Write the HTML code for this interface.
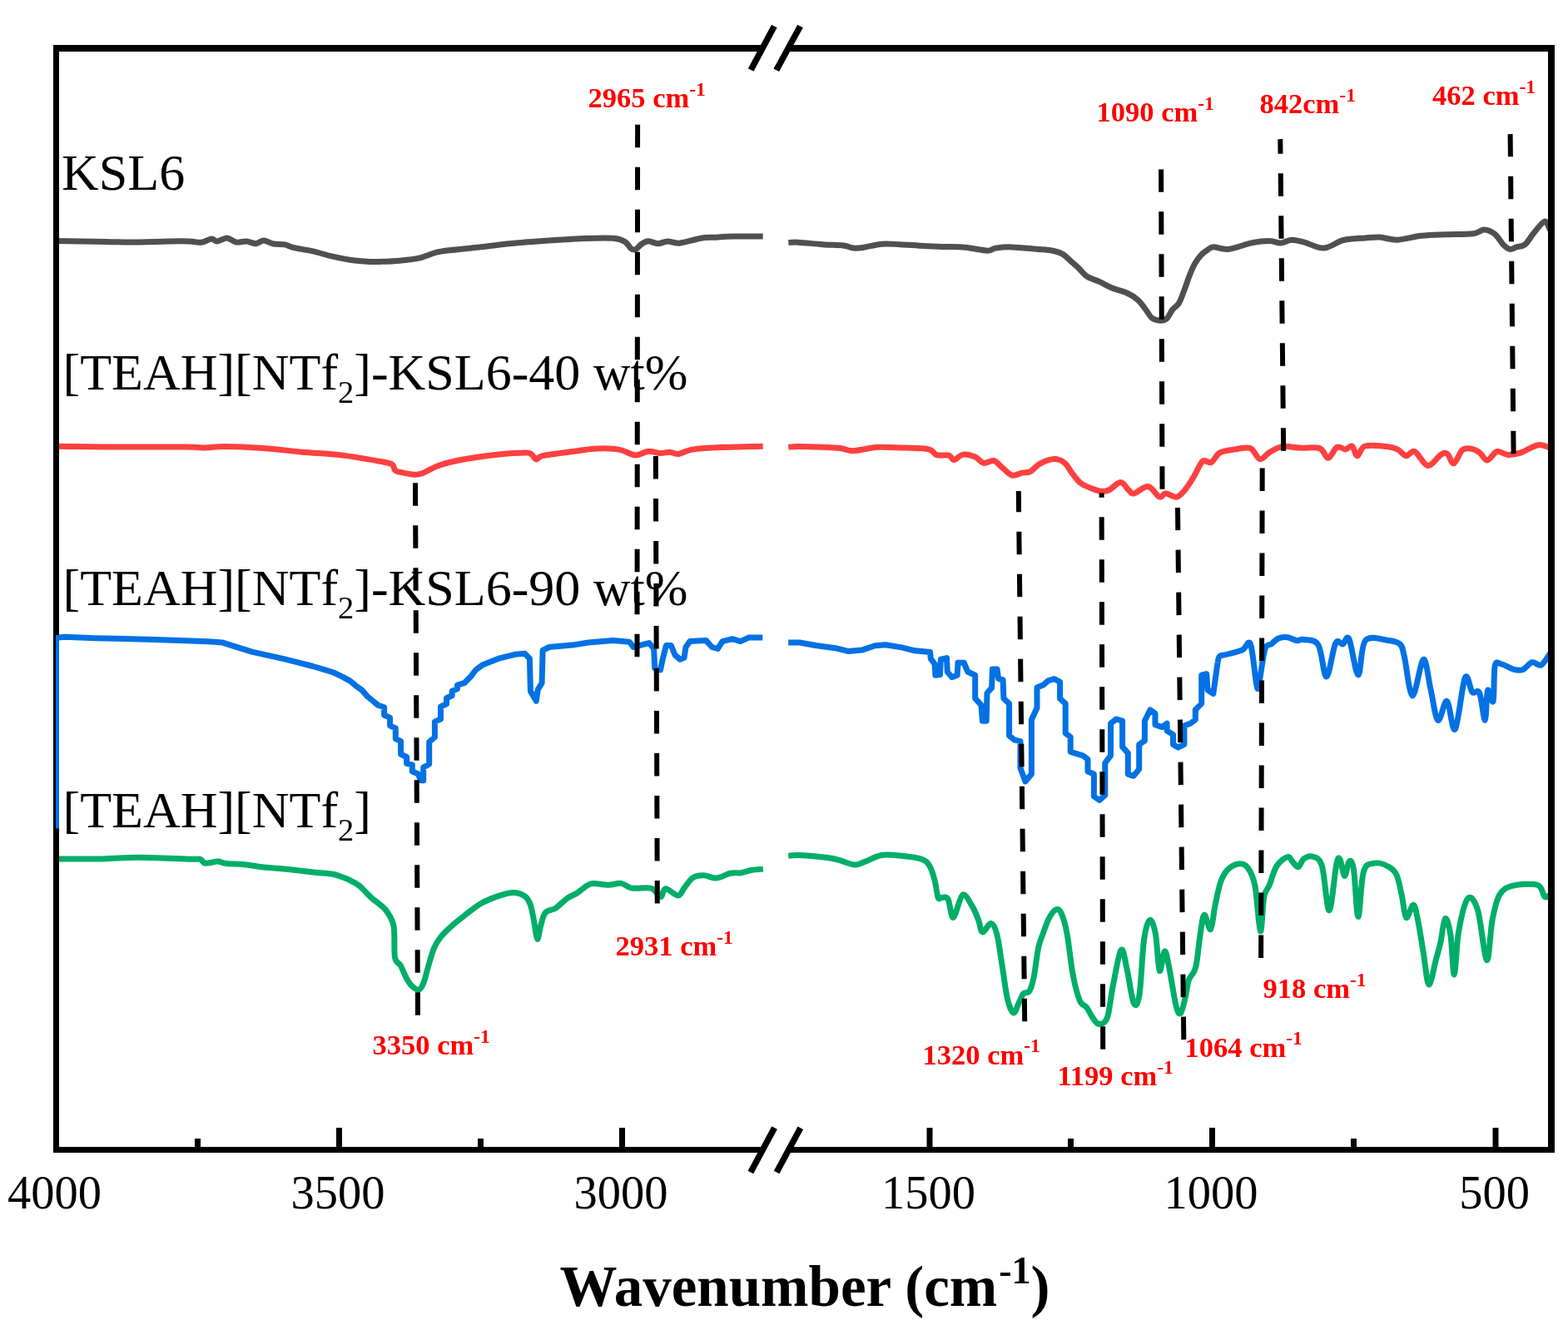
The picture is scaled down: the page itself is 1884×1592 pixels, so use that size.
<!DOCTYPE html>
<html><head><meta charset="utf-8"><title>FTIR</title>
<style>
html,body{margin:0;padding:0;background:#fff;}
body{width:1884px;height:1592px;overflow:hidden;}
svg{display:block;}
.lbl{font-family:"Liberation Serif",serif;}
</style></head><body>
<svg width="1884" height="1592" viewBox="0 0 1884 1592">
<rect x="0" y="0" width="1884" height="1592" fill="#fff"/>

<text class="lbl" x="74" y="228" font-size="62" fill="#000">KSL6</text>
<text class="lbl" x="75.5" y="468" font-size="62" fill="#000">[TEAH][NTf<tspan font-size="38.5" dy="16">2</tspan><tspan dy="-16">]-KSL6-40 wt%</tspan></text>
<text class="lbl" x="75.5" y="727" font-size="62" fill="#000">[TEAH][NTf<tspan font-size="38.5" dy="16">2</tspan><tspan dy="-16">]-KSL6-90 wt%</tspan></text>
<text class="lbl" x="75.5" y="994" font-size="62" fill="#000">[TEAH][NTf<tspan font-size="38.5" dy="16">2</tspan><tspan dy="-16">]</tspan></text>
<path d="M67.0,289.4 C77.1,289.6 112.5,290.1 127.7,290.4 C142.9,290.7 145.5,291.1 158.0,291.0 C170.5,290.9 190.8,290.2 202.5,290.0 C214.2,289.8 221.4,289.8 228.0,290.0 C234.6,290.2 237.7,291.8 242.0,291.3 C246.3,290.8 250.8,287.1 254.0,286.9 C257.2,286.7 257.9,290.1 261.0,290.0 C264.1,289.9 268.7,285.8 272.5,286.0 C276.3,286.2 280.1,290.3 284.0,291.0 C287.9,291.7 292.1,289.7 296.0,290.0 C299.9,290.3 304.0,292.9 307.5,292.7 C311.0,292.5 313.5,288.9 317.0,289.0 C320.5,289.1 324.3,292.2 328.6,293.0 C332.9,293.8 338.7,293.2 342.6,293.9 C346.5,294.6 346.6,296.1 352.0,297.4 C357.4,298.7 367.2,299.9 375.0,301.6 C382.8,303.4 390.8,306.1 398.6,307.9 C406.4,309.7 414.3,311.4 422.0,312.5 C429.7,313.6 439.2,314.1 445.0,314.4 C450.8,314.7 451.2,314.6 457.0,314.4 C462.8,314.2 472.3,313.9 480.0,313.2 C487.7,312.5 495.6,311.9 503.4,310.2 C511.2,308.4 518.9,304.4 526.7,302.7 C534.5,300.9 540.6,300.8 550.0,299.7 C559.4,298.6 571.1,297.5 582.8,296.2 C594.5,294.9 606.0,293.3 620.0,292.0 C634.0,290.7 653.1,289.4 666.8,288.5 C680.4,287.6 690.2,286.8 701.9,286.4 C713.6,286.0 728.7,285.5 736.9,286.2 C745.1,286.9 747.5,288.3 751.0,290.4 C754.5,292.4 755.9,296.9 758.0,298.5 C760.1,300.1 761.6,300.6 763.7,299.7 C765.8,298.8 768.2,294.9 770.8,293.2 C773.3,291.5 775.7,289.8 779.0,289.7 C782.3,289.6 786.7,292.7 790.6,292.7 C794.5,292.7 798.0,290.0 802.3,289.9 C806.6,289.8 809.7,292.8 816.3,292.2 C822.9,291.6 835.0,287.4 842.0,286.2 C849.0,285.0 851.7,285.6 858.3,285.2 C864.9,284.8 872.0,284.2 881.7,284.0 C891.4,283.8 910.9,284.0 916.7,284.0" fill="none" stroke="#505050" stroke-width="7" stroke-linejoin="round"/>
<path d="M947.3,291.5 C949.3,291.4 952.6,290.8 959.5,291.2 C966.4,291.6 979.8,293.1 988.8,293.7 C997.8,294.3 1007.1,294.2 1013.2,294.9 C1019.3,295.6 1021.3,297.7 1025.4,298.1 C1029.5,298.5 1032.0,298.1 1037.7,297.3 C1043.4,296.5 1052.3,293.8 1059.6,293.2 C1066.9,292.6 1073.0,293.3 1081.6,293.7 C1090.1,294.1 1102.0,295.2 1110.9,295.6 C1119.9,296.1 1127.2,296.1 1135.3,296.4 C1143.4,296.7 1151.2,296.5 1159.7,297.3 C1168.2,298.1 1180.5,301.1 1186.6,301.2 C1192.7,301.3 1191.4,298.8 1196.3,298.1 C1201.2,297.4 1207.8,296.7 1215.9,296.9 C1224.1,297.1 1237.1,298.6 1245.2,299.3 C1253.3,300.0 1259.4,300.2 1264.7,301.2 C1270.0,302.2 1273.2,303.3 1276.9,305.4 C1280.6,307.5 1283.5,311.0 1286.7,313.9 C1290.0,316.8 1293.2,319.4 1296.4,322.5 C1299.7,325.6 1302.1,329.7 1306.2,332.3 C1310.3,334.9 1316.0,336.2 1320.9,338.4 C1325.8,340.6 1329.8,343.3 1335.5,345.7 C1341.2,348.1 1349.7,350.1 1355.0,352.5 C1360.3,354.9 1363.5,357.0 1367.2,360.3 C1370.9,363.6 1374.2,368.8 1377.0,372.5 C1379.8,376.2 1381.5,380.2 1384.3,382.3 C1387.1,384.4 1391.1,385.1 1394.1,385.2 C1397.1,385.2 1399.7,384.8 1402.1,382.6 C1404.5,380.4 1406.2,375.2 1408.6,372.2 C1411.0,369.2 1414.0,368.3 1416.4,364.4 C1418.8,360.5 1420.7,354.4 1422.9,348.8 C1425.1,343.2 1427.2,336.0 1429.4,330.6 C1431.6,325.2 1433.5,320.4 1435.9,316.3 C1438.3,312.2 1441.3,308.5 1443.7,305.9 C1446.1,303.3 1447.8,302.2 1450.2,300.7 C1452.6,299.2 1453.7,297.0 1458.0,296.8 C1462.3,296.6 1468.4,300.3 1476.2,299.4 C1484.0,298.5 1496.6,293.2 1504.8,291.6 C1513.0,290.0 1520.0,289.4 1525.6,289.5 C1531.2,289.6 1534.2,292.3 1538.6,292.1 C1542.9,291.9 1546.9,288.4 1551.7,288.2 C1556.5,288.0 1560.8,289.5 1567.3,291.1 C1573.8,292.8 1582.9,298.5 1590.7,298.1 C1598.5,297.7 1605.9,290.5 1614.1,288.5 C1622.3,286.5 1632.7,286.5 1640.1,285.9 C1647.5,285.3 1651.8,284.7 1658.3,285.1 C1664.8,285.5 1670.9,288.5 1679.1,288.2 C1687.3,287.9 1698.2,284.4 1707.7,283.3 C1717.2,282.2 1725.9,282.1 1736.3,281.7 C1746.7,281.3 1762.3,281.6 1770.1,280.7 C1777.9,279.8 1778.8,275.9 1783.1,276.0 C1787.4,276.1 1792.2,278.2 1796.1,281.2 C1800.0,284.2 1803.5,291.2 1806.5,294.2 C1809.5,297.2 1811.7,299.0 1814.3,299.4 C1816.9,299.8 1819.1,297.8 1822.1,296.8 C1825.1,295.9 1829.0,296.5 1832.5,293.7 C1836.0,290.9 1839.0,284.5 1842.9,279.9 C1846.8,275.3 1852.7,266.8 1855.9,266.1 C1859.2,265.5 1861.3,274.4 1862.4,276.0" fill="none" stroke="#505050" stroke-width="7" stroke-linejoin="round"/>
<path d="M67.0,536.2 C77.5,536.3 103.9,536.8 130.0,536.9 C156.1,537.0 204.0,536.7 223.5,536.9 C243.0,537.1 239.0,538.1 246.8,538.0 C254.6,537.9 258.5,536.3 270.2,536.4 C281.9,536.5 301.3,537.4 316.9,538.5 C332.5,539.6 348.0,541.8 363.6,543.2 C379.2,544.6 394.7,545.0 410.3,546.9 C425.9,548.8 446.9,552.6 457.0,554.4 C467.1,556.2 468.1,556.1 471.0,557.9 C473.9,559.6 473.0,563.3 474.5,564.9 C476.0,566.5 476.0,566.3 480.0,567.2 C484.0,568.1 494.0,570.1 498.7,570.3 C503.4,570.5 503.3,570.2 508.0,568.4 C512.7,566.6 519.7,562.0 526.7,559.5 C533.7,557.0 538.3,555.4 550.0,553.2 C561.7,551.0 583.2,547.8 596.8,546.2 C610.4,544.7 624.8,543.9 631.8,543.9 C638.8,543.9 636.7,544.9 638.8,546.2 C640.9,547.6 642.3,551.8 644.6,552.0 C646.9,552.2 645.2,549.0 652.8,547.4 C660.4,545.8 680.1,543.6 690.2,542.2 C700.3,540.8 705.7,539.7 713.5,539.2 C721.3,538.7 731.0,538.8 736.9,539.2 C742.8,539.6 744.1,540.2 748.6,541.5 C753.1,542.8 758.6,546.8 763.7,546.9 C768.8,547.0 774.1,542.6 779.0,542.2 C783.9,541.8 788.7,544.4 793.0,544.6 C797.3,544.8 800.9,543.1 804.6,543.2 C808.3,543.4 810.8,546.0 815.1,545.5 C819.4,545.0 823.9,541.6 830.3,540.4 C836.7,539.1 839.3,538.7 853.7,538.0 C868.1,537.3 906.2,536.5 916.7,536.2" fill="none" stroke="#ff4040" stroke-width="7" stroke-linejoin="round"/>
<path d="M947.3,537.3 C949.3,537.1 952.6,536.4 959.5,536.4 C966.4,536.4 980.2,536.9 988.8,537.3 C997.3,537.7 1004.7,538.1 1010.8,538.8 C1016.9,539.5 1018.1,542.0 1025.4,541.7 C1032.7,541.5 1044.5,537.9 1054.7,537.3 C1064.9,536.7 1076.3,537.7 1086.5,538.1 C1096.7,538.5 1109.3,538.4 1115.8,539.8 C1122.3,541.2 1121.4,545.4 1125.5,546.6 C1129.6,547.8 1136.7,546.1 1140.2,547.1 C1143.7,548.1 1143.5,552.9 1146.3,552.7 C1149.1,552.5 1153.0,546.7 1157.3,546.1 C1161.6,545.5 1167.8,547.4 1171.9,549.1 C1176.0,550.8 1178.0,555.7 1181.7,556.4 C1185.4,557.1 1190.2,552.7 1193.9,553.5 C1197.6,554.3 1200.0,558.4 1203.7,561.3 C1207.4,564.2 1211.8,569.9 1215.9,571.0 C1220.0,572.1 1224.4,568.8 1228.1,568.1 C1231.8,567.4 1234.2,568.5 1237.9,566.6 C1241.6,564.7 1245.1,559.4 1250.0,556.9 C1254.9,554.4 1262.2,551.6 1267.1,551.5 C1272.0,551.4 1275.7,553.4 1279.4,556.4 C1283.1,559.4 1285.8,565.7 1289.1,569.8 C1292.3,573.9 1294.8,577.8 1298.9,580.8 C1303.0,583.8 1309.5,586.0 1313.5,587.6 C1317.5,589.2 1319.8,590.1 1323.0,590.3 C1326.2,590.5 1328.5,590.6 1332.4,588.8 C1336.3,587.0 1342.6,579.6 1346.5,579.6 C1350.4,579.6 1353.3,586.6 1356.0,588.8 C1358.7,591.0 1358.5,593.7 1362.4,593.0 C1366.3,592.3 1374.4,583.8 1379.5,584.5 C1384.6,585.2 1389.5,595.7 1393.0,597.1 C1396.5,598.5 1397.3,592.7 1400.8,592.7 C1404.3,592.7 1409.9,597.9 1413.8,597.1 C1417.7,596.3 1420.7,592.1 1424.2,588.0 C1427.7,583.9 1431.1,578.0 1434.6,572.4 C1438.1,566.8 1441.5,557.0 1445.0,554.2 C1448.5,551.4 1451.9,557.2 1455.4,555.5 C1458.9,553.8 1461.0,546.4 1465.8,543.8 C1470.6,541.2 1477.9,540.8 1484.0,539.9 C1490.1,539.0 1497.2,536.6 1502.2,538.6 C1507.2,540.6 1510.0,550.8 1513.9,551.6 C1517.8,552.4 1521.0,545.8 1525.6,543.3 C1530.1,540.8 1535.1,537.4 1541.2,536.5 C1547.3,535.6 1554.6,537.8 1562.0,538.1 C1569.4,538.5 1579.8,536.6 1585.5,538.6 C1591.2,540.6 1592.4,550.5 1595.9,550.3 C1599.4,550.1 1602.8,539.0 1606.3,537.3 C1609.8,535.6 1613.7,540.1 1616.7,539.9 C1619.7,539.7 1622.1,534.7 1624.5,536.0 C1626.9,537.3 1628.4,547.7 1631.0,547.7 C1633.6,547.7 1634.2,537.9 1640.1,536.0 C1645.9,534.1 1659.6,535.9 1666.1,536.5 C1672.6,537.1 1675.2,538.0 1679.1,539.9 C1683.0,541.8 1686.0,547.3 1689.5,547.7 C1693.0,548.1 1695.6,540.5 1699.9,542.5 C1704.2,544.5 1710.3,558.8 1715.5,559.4 C1720.7,560.0 1727.2,548.8 1731.1,546.4 C1735.0,544.0 1736.3,543.4 1738.9,545.1 C1741.5,546.8 1743.7,557.5 1746.7,556.8 C1749.7,556.1 1753.6,543.7 1757.1,540.7 C1760.6,537.8 1764.0,538.6 1767.5,539.1 C1771.0,539.6 1774.7,541.5 1777.9,543.8 C1781.2,546.1 1783.5,553.1 1787.0,552.9 C1790.5,552.7 1794.6,543.6 1798.7,542.5 C1802.8,541.4 1806.9,546.2 1811.7,546.4 C1816.5,546.6 1821.2,545.8 1827.3,543.8 C1833.4,541.8 1842.0,535.6 1848.1,534.7 C1854.2,533.8 1861.1,538.0 1863.7,538.6" fill="none" stroke="#ff4040" stroke-width="7" stroke-linejoin="round"/>
<polyline points="67.2,766.2 78.0,765.3 114.1,766.7 150.2,767.4 186.3,768.5 222.4,769.8 249.5,770.7 267.5,772.1 285.6,777.9 303.6,783.3 321.7,787.3 339.7,791.4 357.8,795.9 375.8,800.5 393.9,805.9 400.7,808.0 411.4,813.1 421.0,818.4 427.4,823.8 434.8,829.1 441.3,836.6 447.7,841.9 454.1,847.3 461.6,849.8 461.6,859.2 468.6,862.4 468.6,871.8 475.3,875.0 475.3,887.5 481.6,890.6 481.6,906.3 488.6,909.5 488.6,917.3 495.3,918.9 495.3,926.8 502.4,930.0 505.5,937.7 508.7,937.7 508.7,922.0 515.7,918.1 515.7,891.4 522.4,885.9 522.4,867.1 529.5,864.0 529.5,849.0 536.5,845.9 536.5,838.8 543.2,835.7 543.2,830.2 549.5,827.8 549.5,823.1 557.9,820.7 565.7,812.8 571.6,805.0 579.5,799.1 599.1,791.2 618.7,786.3 630.5,785.3 636.4,791.2 637.4,830.5 644.3,842.3 646.2,828.6 651.1,820.7 652.1,781.4 660.0,777.5 687.5,775.1 707.1,772.0 736.6,769.6 756.2,771.2 761.1,777.5 770.0,775.1 779.8,772.6 785.7,779.5 786.7,803.0 793.5,805.0 795.5,795.2 800.4,775.5 806.3,775.5 811.2,787.3 817.1,792.2 822.0,790.3 824.0,777.5 828.9,770.6 848.5,769.6 855.4,777.5 862.3,779.5 868.1,770.6 880.0,767.7 889.7,770.6 899.6,766.1 916.3,766.1" fill="none" stroke="#0271e4" stroke-width="7" stroke-linejoin="round" stroke-linecap="butt"/>
<polyline points="947.2,772.0 960.7,772.0 979.8,775.5 1003.7,778.7 1019.6,782.6 1035.5,781.1 1051.5,775.8 1064.2,774.7 1083.3,777.9 1099.2,781.8 1117.5,783.4 1118.3,791.4 1123.1,797.8 1123.9,811.3 1129.5,810.5 1130.3,792.2 1137.5,790.6 1138.3,807.3 1143.8,813.7 1150.2,811.3 1151.0,796.2 1158.2,796.2 1162.9,807.3 1171.7,811.3 1171.7,839.2 1178.9,847.1 1180.4,866.2 1185.2,866.2 1186.0,832.8 1191.6,826.4 1192.4,804.1 1198.0,804.1 1199.6,815.3 1205.1,816.9 1205.9,839.2 1212.6,845.4 1212.6,884.0 1219.3,889.2 1226.0,890.7 1226.0,922.7 1232.0,939.0 1239.4,930.1 1239.4,864.7 1246.0,850.6 1246.0,826.1 1253.5,823.1 1259.4,817.9 1266.9,815.7 1273.6,819.4 1273.6,839.4 1280.2,845.4 1280.2,881.0 1286.2,885.5 1286.2,903.3 1301.0,907.8 1307.0,912.3 1307.0,927.1 1314.4,930.1 1314.4,956.8 1321.1,961.3 1327.8,955.4 1327.8,916.7 1334.5,907.8 1334.5,869.2 1341.2,864.0 1348.6,866.2 1348.6,897.4 1355.3,904.8 1355.3,930.1 1362.0,932.3 1368.7,924.1 1368.7,894.4 1375.4,890.0 1375.4,866.2 1382.0,852.8 1388.0,857.3 1388.0,870.7 1396.2,873.6 1402.1,869.2 1402.1,878.1 1409.5,882.5 1409.5,894.4 1415.5,898.1 1422.9,894.4 1422.9,872.1 1430.3,869.2 1436.3,864.7 1436.3,852.8 1443.7,845.4 1443.7,811.2 1449.7,809.7 1451.0,829.0 1457.8,833.5 1463.0,796.3" fill="none" stroke="#0271e4" stroke-width="7" stroke-linejoin="round" stroke-linecap="butt"/>
<path d="M1463.0,796.3 C1463.4,795.0 1463.7,790.1 1465.4,788.5 C1467.1,786.9 1468.6,787.8 1473.1,786.5 C1477.6,785.2 1487.7,783.1 1492.6,781.0 C1497.5,778.9 1499.7,767.3 1502.5,774.0 C1505.3,780.7 1507.8,812.8 1509.5,821.0 C1511.2,829.2 1510.8,829.8 1512.5,823.0 C1514.2,816.2 1517.3,788.7 1519.8,780.5 C1522.3,772.3 1524.8,776.1 1527.5,773.9 C1530.2,771.6 1533.0,768.4 1536.2,767.0 C1539.5,765.6 1543.4,765.3 1547.0,765.7 C1550.6,766.1 1554.6,769.1 1557.9,769.6 C1561.2,770.1 1562.2,767.6 1566.6,768.5 C1570.9,769.4 1579.5,767.6 1584.0,775.0 C1588.5,782.4 1590.3,813.5 1593.8,813.1 C1597.2,812.8 1601.4,779.4 1604.7,772.9 C1608.0,766.4 1610.7,774.8 1613.4,773.9 C1616.1,773.0 1617.9,761.6 1621.0,767.8 C1624.1,774.0 1628.6,810.6 1631.9,810.9 C1635.2,811.2 1634.8,776.5 1640.6,769.6 C1646.4,762.7 1659.8,768.5 1666.7,769.2 C1673.6,769.9 1678.5,770.6 1682.0,773.9 C1685.5,777.2 1684.9,778.9 1687.4,789.2 C1689.9,799.6 1693.4,835.5 1697.2,836.0 C1701.0,836.5 1706.7,793.7 1710.3,792.4 C1713.9,791.1 1716.1,816.1 1719.0,828.3 C1721.9,840.4 1724.4,862.9 1727.7,865.3 C1731.0,867.7 1735.1,840.7 1738.6,842.5 C1742.0,844.3 1744.8,880.9 1748.4,876.2 C1752.0,871.5 1756.9,821.6 1760.3,814.2 C1763.7,806.8 1766.1,828.5 1769.0,831.6 C1771.9,834.7 1775.2,827.1 1777.7,832.7 C1780.2,838.3 1782.7,865.8 1784.3,865.3 C1785.9,864.8 1785.9,833.2 1787.5,829.4 C1789.1,825.6 1792.6,847.4 1794.1,842.5 C1795.5,837.6 1794.6,807.5 1796.2,800.1 C1797.8,792.7 1800.1,797.2 1803.9,797.9 C1807.7,798.6 1814.8,803.3 1819.1,804.4 C1823.4,805.5 1826.4,805.8 1830.0,804.4 C1833.6,803.0 1837.3,796.6 1840.9,795.7 C1844.5,794.8 1848.1,800.8 1851.7,799.0 C1855.3,797.2 1860.8,787.2 1862.6,784.8" fill="none" stroke="#0271e4" stroke-width="7" stroke-linejoin="round"/>
<path d="M68.5,1031.9 C77.7,1031.9 107.4,1032.2 123.7,1031.9 C140.0,1031.6 148.5,1030.1 166.2,1030.2 C183.9,1030.3 217.5,1032.0 229.9,1032.3 C242.3,1032.6 237.7,1031.5 240.5,1032.3 C243.3,1033.1 243.3,1036.7 246.8,1037.2 C250.3,1037.7 257.4,1035.0 261.7,1035.1 C265.9,1035.2 267.0,1037.0 272.3,1037.6 C277.6,1038.2 286.4,1038.0 293.5,1038.7 C300.6,1039.4 307.7,1041.0 314.8,1041.8 C321.9,1042.6 328.9,1042.8 336.0,1043.5 C343.1,1044.2 350.1,1044.9 357.2,1045.7 C364.3,1046.5 371.4,1047.4 378.5,1048.2 C385.6,1049.0 394.4,1049.4 399.7,1050.3 C405.0,1051.2 406.8,1052.2 410.3,1053.5 C413.8,1054.8 417.3,1056.0 420.9,1057.8 C424.4,1059.6 428.4,1061.7 431.6,1064.1 C434.8,1066.5 437.4,1069.9 440.0,1072.4 C442.6,1074.9 444.1,1076.9 446.9,1079.3 C449.7,1081.7 453.6,1084.2 456.6,1086.9 C459.6,1089.6 462.1,1090.8 464.8,1095.2 C467.6,1099.6 471.5,1103.9 473.1,1113.1 C474.7,1122.3 473.1,1142.6 474.5,1150.4 C475.9,1158.2 479.1,1156.0 481.4,1160.1 C483.7,1164.2 486.0,1171.1 488.3,1175.2 C490.6,1179.3 492.7,1182.6 495.2,1184.9 C497.7,1187.2 501.2,1189.7 503.5,1189.0 C505.8,1188.3 507.2,1185.4 509.0,1180.8 C510.8,1176.2 512.4,1168.3 514.5,1161.4 C516.6,1154.5 518.9,1145.4 521.4,1139.4 C523.9,1133.4 526.0,1130.2 529.7,1125.6 C533.4,1121.0 538.9,1115.9 543.5,1111.8 C548.1,1107.7 551.5,1105.1 557.3,1100.7 C563.0,1096.3 571.1,1089.5 578.0,1085.5 C584.9,1081.5 592.3,1078.8 598.7,1076.6 C605.1,1074.4 611.3,1072.4 616.6,1072.4 C621.9,1072.4 627.0,1074.2 630.4,1076.6 C633.8,1079.0 635.4,1082.0 637.3,1086.9 C639.1,1091.8 640.1,1099.3 641.5,1106.2 C642.9,1113.1 644.2,1127.4 645.6,1128.3 C647.0,1129.2 648.2,1117.1 649.8,1111.8 C651.4,1106.5 652.3,1100.0 655.3,1096.6 C658.3,1093.1 663.3,1094.0 667.7,1091.1 C672.1,1088.2 677.3,1082.2 681.5,1079.3 C685.7,1076.4 688.7,1076.0 692.7,1073.5 C696.7,1071.0 702.1,1066.0 705.5,1064.0 C708.9,1062.0 708.9,1061.5 713.1,1061.4 C717.4,1061.3 725.5,1063.3 731.0,1063.3 C736.5,1063.3 741.5,1060.8 746.2,1061.4 C750.9,1062.0 753.0,1066.1 759.0,1067.1 C765.0,1068.0 776.8,1066.0 781.9,1067.1 C787.0,1068.2 787.5,1071.8 789.6,1073.5 C791.7,1075.2 792.9,1078.2 794.6,1077.3 C796.3,1076.3 796.3,1068.0 799.7,1067.8 C803.1,1067.6 811.2,1076.4 815.0,1076.1 C818.8,1075.8 819.7,1069.5 822.7,1065.9 C825.7,1062.3 829.1,1056.8 832.9,1054.4 C836.7,1052.1 840.9,1051.7 845.6,1051.8 C850.3,1051.9 855.6,1055.4 860.9,1055.0 C866.2,1054.6 872.6,1050.3 877.5,1049.3 C882.4,1048.2 886.0,1049.3 890.2,1048.7 C894.4,1048.1 898.5,1046.2 902.9,1045.5 C907.3,1044.8 914.6,1044.4 916.9,1044.2" fill="none" stroke="#00ae68" stroke-width="7" stroke-linejoin="round"/>
<path d="M947.2,1028.3 C949.5,1028.2 951.8,1027.0 960.7,1027.5 C969.6,1028.0 989.6,1029.6 1000.5,1031.5 C1011.4,1033.4 1019.6,1038.3 1026.0,1039.0 C1032.4,1039.7 1033.1,1037.4 1038.7,1035.5 C1044.3,1033.6 1052.0,1028.7 1059.4,1027.5 C1066.8,1026.3 1075.3,1027.5 1083.3,1028.3 C1091.3,1029.1 1101.6,1030.3 1107.2,1032.3 C1112.8,1034.3 1114.2,1036.0 1116.8,1040.3 C1119.4,1044.5 1121.4,1051.4 1123.1,1057.8 C1124.8,1064.2 1125.8,1075.0 1127.1,1078.5 C1128.4,1082.0 1129.1,1078.2 1131.1,1078.5 C1133.1,1078.8 1136.6,1076.1 1139.0,1080.1 C1141.4,1084.1 1142.5,1103.2 1145.4,1102.4 C1148.3,1101.6 1152.9,1077.7 1156.6,1075.3 C1160.3,1072.9 1164.5,1083.0 1167.7,1088.0 C1170.9,1093.0 1173.6,1100.2 1175.7,1105.5 C1177.8,1110.8 1177.9,1119.2 1180.4,1119.9 C1182.9,1120.6 1187.9,1109.0 1190.8,1109.5 C1193.7,1110.0 1195.8,1114.5 1198.0,1123.1 C1200.2,1131.7 1202.2,1148.3 1204.3,1161.3 C1206.4,1174.3 1208.4,1191.8 1210.7,1201.1 C1213.0,1210.4 1215.7,1216.4 1217.9,1217.0 C1220.1,1217.6 1222.1,1208.8 1224.1,1204.9 C1226.1,1201.1 1227.6,1196.2 1229.7,1193.9 C1231.8,1191.6 1234.5,1194.3 1236.6,1191.1 C1238.7,1187.9 1240.3,1183.2 1242.1,1174.5 C1243.9,1165.8 1245.8,1147.4 1247.6,1138.7 C1249.4,1130.0 1251.0,1127.8 1253.1,1122.1 C1255.2,1116.3 1257.5,1109.0 1260.0,1104.2 C1262.5,1099.4 1265.8,1094.2 1268.3,1093.1 C1270.8,1091.9 1272.9,1092.5 1275.2,1097.3 C1277.5,1102.1 1279.8,1109.9 1282.1,1122.1 C1284.4,1134.3 1286.5,1157.1 1289.0,1170.4 C1291.5,1183.7 1294.5,1195.4 1297.3,1202.1 C1300.1,1208.8 1302.8,1206.7 1305.6,1210.4 C1308.3,1214.1 1311.3,1220.9 1313.8,1224.2 C1316.3,1227.5 1317.9,1230.6 1320.7,1230.4 C1323.5,1230.2 1327.6,1230.5 1330.4,1222.8 C1333.2,1215.1 1334.5,1197.8 1337.3,1184.2 C1340.1,1170.6 1344.2,1144.9 1347.0,1141.4 C1349.8,1138.0 1351.4,1152.9 1353.9,1163.5 C1356.4,1174.1 1359.6,1199.6 1362.1,1204.9 C1364.6,1210.2 1366.9,1207.9 1369.0,1195.2 C1371.1,1182.5 1372.5,1144.0 1374.6,1129.0 C1376.7,1114.0 1379.2,1106.7 1381.5,1105.5 C1383.8,1104.3 1386.5,1112.0 1388.4,1122.1 C1390.4,1132.2 1391.4,1162.8 1393.2,1166.3 C1395.0,1169.8 1397.5,1143.3 1399.4,1142.8 C1401.4,1142.3 1402.6,1152.5 1404.9,1163.5 C1407.2,1174.5 1410.9,1200.0 1413.2,1209.0 C1415.5,1218.0 1416.9,1219.1 1418.7,1217.3 C1420.5,1215.5 1422.7,1204.7 1424.3,1198.0 C1425.9,1191.3 1426.3,1183.3 1428.4,1177.3 C1430.5,1171.3 1434.4,1171.3 1436.7,1162.1 C1439.0,1152.9 1440.5,1132.6 1442.2,1122.1 C1443.9,1111.6 1444.9,1100.2 1447.0,1099.3 C1449.1,1098.4 1452.4,1118.5 1454.6,1116.6 C1456.8,1114.6 1458.1,1097.0 1460.1,1087.6 C1462.1,1078.2 1464.0,1067.2 1466.5,1060.1 C1469.0,1053.0 1471.6,1048.5 1475.2,1044.8 C1478.8,1041.1 1484.3,1038.3 1488.3,1037.9 C1492.3,1037.5 1495.9,1038.2 1499.2,1042.6 C1502.5,1047.0 1505.4,1051.7 1507.9,1064.4 C1510.4,1077.1 1512.6,1116.6 1514.4,1118.8 C1516.2,1121.0 1517.0,1086.8 1518.8,1077.5 C1520.6,1068.2 1522.8,1069.5 1525.3,1063.3 C1527.8,1057.1 1530.4,1046.1 1534.0,1040.5 C1537.6,1034.9 1543.7,1030.3 1547.0,1029.6 C1550.3,1028.9 1551.4,1034.1 1553.6,1036.1 C1555.8,1038.1 1557.9,1042.3 1560.1,1041.6 C1562.3,1040.9 1563.7,1033.9 1566.6,1031.8 C1569.5,1029.7 1573.9,1027.8 1577.5,1029.2 C1581.1,1030.7 1585.1,1029.7 1588.4,1040.5 C1591.7,1051.3 1594.2,1094.2 1597.1,1093.8 C1600.0,1093.4 1603.6,1048.4 1605.8,1038.3 C1608.0,1028.2 1608.6,1030.6 1610.2,1032.9 C1611.8,1035.2 1613.8,1052.1 1615.6,1052.4 C1617.4,1052.8 1619.2,1036.3 1621.0,1035.0 C1622.8,1033.7 1624.7,1033.7 1626.5,1044.8 C1628.3,1055.9 1629.9,1101.0 1631.9,1101.4 C1633.9,1101.8 1635.2,1057.7 1638.5,1047.0 C1641.8,1036.3 1646.8,1038.3 1651.5,1037.2 C1656.2,1036.1 1662.4,1038.3 1666.7,1040.5 C1671.0,1042.7 1674.7,1044.5 1677.6,1050.3 C1680.5,1056.1 1682.2,1066.6 1684.2,1075.3 C1686.2,1084.0 1687.2,1100.5 1689.6,1102.5 C1691.9,1104.5 1695.9,1086.8 1698.3,1087.3 C1700.7,1087.8 1701.7,1096.2 1703.7,1105.8 C1705.7,1115.4 1708.1,1132.0 1710.3,1144.9 C1712.5,1157.8 1714.3,1181.7 1716.8,1183.0 C1719.3,1184.3 1723.2,1161.0 1725.5,1152.5 C1727.8,1144.0 1729.1,1140.1 1730.9,1131.9 C1732.7,1123.8 1734.4,1105.0 1736.4,1103.6 C1738.4,1102.1 1741.1,1112.0 1742.9,1123.2 C1744.7,1134.4 1745.7,1171.7 1747.3,1171.0 C1748.9,1170.3 1750.0,1134.0 1752.7,1118.8 C1755.4,1103.6 1759.8,1083.8 1763.6,1079.6 C1767.4,1075.4 1771.8,1081.5 1775.6,1093.8 C1779.4,1106.1 1783.5,1151.6 1786.4,1153.6 C1789.3,1155.6 1790.5,1118.8 1793.0,1105.8 C1795.5,1092.8 1797.7,1082.2 1801.7,1075.3 C1805.7,1068.4 1809.3,1066.4 1816.9,1064.4 C1824.5,1062.4 1840.9,1061.1 1847.4,1063.3 C1853.9,1065.5 1853.4,1075.7 1856.1,1077.5 C1858.8,1079.3 1862.4,1074.8 1863.7,1074.2" fill="none" stroke="#00ae68" stroke-width="7" stroke-linejoin="round"/>
<line x1="765.5" y1="789.3" x2="766.1" y2="149.8" stroke="#000" stroke-width="6" stroke-dasharray="27.5 23.5"/>
<line x1="1396.5" y1="587.8" x2="1395.1" y2="203.5" stroke="#000" stroke-width="6" stroke-dasharray="27.5 23.5"/>
<line x1="1542.2" y1="541.8" x2="1538.3" y2="167.1" stroke="#000" stroke-width="6" stroke-dasharray="27.5 23.5"/>
<line x1="1818.6" y1="545.2" x2="1814.6" y2="161.1" stroke="#000" stroke-width="6" stroke-dasharray="27.5 23.5"/>
<line x1="502" y1="1219.8" x2="499" y2="580" stroke="#000" stroke-width="6" stroke-dasharray="27.5 23.5"/>
<line x1="789.8" y1="1085.6" x2="787.8" y2="548.1" stroke="#000" stroke-width="6" stroke-dasharray="27.5 23.5"/>
<line x1="1231.2" y1="1227.2" x2="1223.8" y2="590" stroke="#000" stroke-width="6" stroke-dasharray="27.5 23.5"/>
<line x1="1325.2" y1="1260.7" x2="1323.6" y2="592.6" stroke="#000" stroke-width="6" stroke-dasharray="27.5 23.5"/>
<line x1="1422.3" y1="1249.1" x2="1415" y2="610" stroke="#000" stroke-width="6" stroke-dasharray="27.5 23.5"/>
<line x1="1515.1" y1="1150.9" x2="1516.7" y2="560.8" stroke="#000" stroke-width="6" stroke-dasharray="27.5 23.5"/>
<rect x="64" y="54" width="7" height="1331" fill="#000"/>
<rect x="1860" y="54" width="8" height="1331" fill="#000"/>
<rect x="64" y="54" width="854" height="8" fill="#000"/>
<rect x="946" y="54" width="922" height="8" fill="#000"/>
<rect x="64" y="1378" width="854" height="7" fill="#000"/>
<rect x="946" y="1378" width="922" height="7" fill="#000"/>
<rect x="67" y="763" width="4" height="232.5" fill="#0271e4"/>
<line x1="902.2" y1="84" x2="930.3" y2="31.5" stroke="#000" stroke-width="7.5"/>
<line x1="932.8" y1="84.3" x2="961.5" y2="31.5" stroke="#000" stroke-width="7.5"/>
<line x1="901.9" y1="1408.5" x2="930.6" y2="1355" stroke="#000" stroke-width="7.5"/>
<line x1="933.1" y1="1408.5" x2="961.8" y2="1355.3" stroke="#000" stroke-width="7.5"/>
<rect x="404.0" y="1355" width="7" height="24" fill="#000"/>
<rect x="744.0" y="1355" width="7" height="24" fill="#000"/>
<rect x="1113.5" y="1355" width="7" height="24" fill="#000"/>
<rect x="1453.0" y="1355" width="7" height="24" fill="#000"/>
<rect x="1793.5" y="1355" width="7" height="24" fill="#000"/>
<rect x="234.0" y="1368" width="7" height="11" fill="#000"/>
<rect x="574.0" y="1368" width="7" height="11" fill="#000"/>
<rect x="1283.0" y="1368" width="7" height="11" fill="#000"/>
<rect x="1623.0" y="1368" width="7" height="11" fill="#000"/>
<text class="lbl" x="65.5" y="1452" font-size="56.5" text-anchor="middle" fill="#000">4000</text>
<text class="lbl" x="406" y="1452" font-size="56.5" text-anchor="middle" fill="#000">3500</text>
<text class="lbl" x="746" y="1452" font-size="56.5" text-anchor="middle" fill="#000">3000</text>
<text class="lbl" x="1115.5" y="1452" font-size="56.5" text-anchor="middle" fill="#000">1500</text>
<text class="lbl" x="1455" y="1452" font-size="56.5" text-anchor="middle" fill="#000">1000</text>
<text class="lbl" x="1795.5" y="1452" font-size="56.5" text-anchor="middle" fill="#000">500</text>
<text class="lbl" x="672.5" y="1569" font-size="69" font-weight="bold" fill="#000">Wavenumber (cm<tspan font-size="46" dx="2" dy="-27.5">-1</tspan><tspan dy="27.5">)</tspan></text>
<text class="lbl" x="706.5" y="129" font-size="34.5" font-weight="bold" fill="#ff0000">2965 cm<tspan font-size="23.5" dy="-14.5">-1</tspan></text>
<text class="lbl" x="1317.5" y="146" font-size="34.5" font-weight="bold" fill="#ff0000">1090 cm<tspan font-size="23.5" dy="-14.5">-1</tspan></text>
<text class="lbl" x="1513.5" y="136" font-size="34.5" font-weight="bold" fill="#ff0000">842cm<tspan font-size="23.5" dy="-14.5">-1</tspan></text>
<text class="lbl" x="1721" y="126" font-size="34.5" font-weight="bold" fill="#ff0000">462 cm<tspan font-size="23.5" dy="-14.5">-1</tspan></text>
<text class="lbl" x="447.5" y="1267" font-size="34.5" font-weight="bold" fill="#ff0000">3350 cm<tspan font-size="23.5" dy="-14.5">-1</tspan></text>
<text class="lbl" x="739.5" y="1148" font-size="34.5" font-weight="bold" fill="#ff0000">2931 cm<tspan font-size="23.5" dy="-14.5">-1</tspan></text>
<text class="lbl" x="1108.5" y="1278.5" font-size="34.5" font-weight="bold" fill="#ff0000">1320 cm<tspan font-size="23.5" dy="-14.5">-1</tspan></text>
<text class="lbl" x="1270.5" y="1304" font-size="34.5" font-weight="bold" fill="#ff0000">1199 cm<tspan font-size="23.5" dy="-14.5">-1</tspan></text>
<text class="lbl" x="1423.5" y="1269.5" font-size="34.5" font-weight="bold" fill="#ff0000">1064 cm<tspan font-size="23.5" dy="-14.5">-1</tspan></text>
<text class="lbl" x="1517.5" y="1199" font-size="34.5" font-weight="bold" fill="#ff0000">918 cm<tspan font-size="23.5" dy="-14.5">-1</tspan></text>
</svg>
</body></html>
